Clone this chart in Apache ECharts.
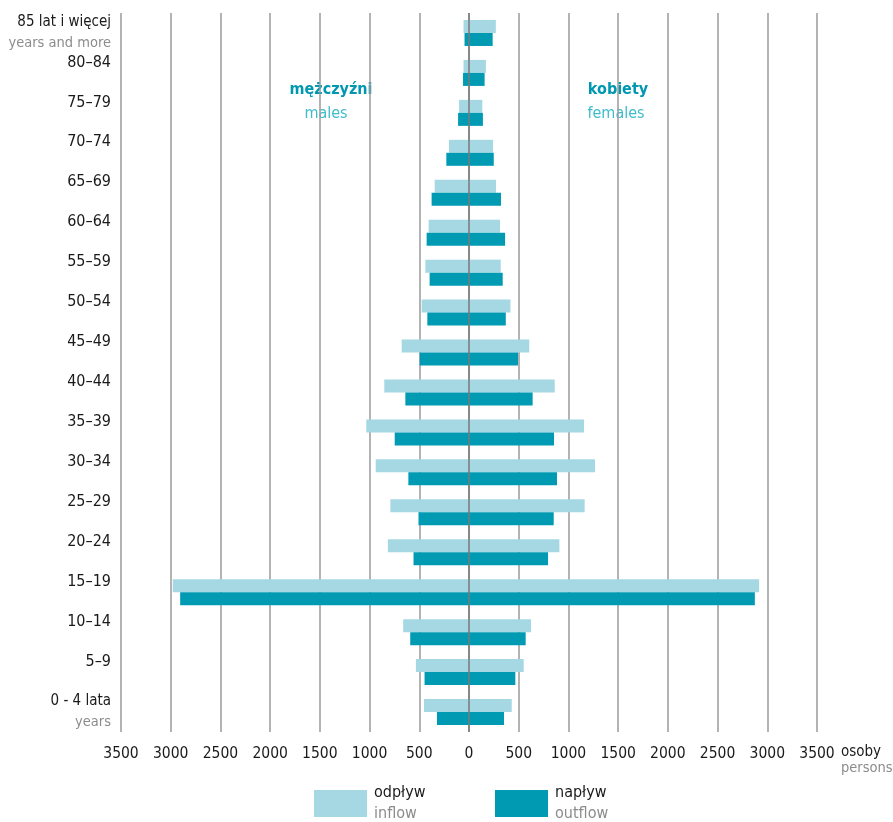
<!DOCTYPE html>
<html>
<head>
<meta charset="utf-8">
<script src="https://cdn.jsdelivr.net/npm/echarts@6/dist/echarts.min.js"></script>
<style>
  html, body { margin: 0; padding: 0; background: #fff; }
  #chart { width: 893px; height: 822px; }
</style>
</head>
<body>
<div id="chart"></div>
<script>
// kategorie wieku (od góry do dołu)
const categories = ['85 lat i więcej', '80–84', '75–79', '70–74', '65–69', '60–64', '55–59', '50–54', '45–49',
  '40–44', '35–39', '30–34', '25–29', '20–24', '15–19', '10–14', '5–9', '0 - 4 lata'];
const categoriesEn = ['years and more', '', '', '', '', '', '', '', '', '', '', '', '', '', '', '', '', 'years'];

// mężczyźni / males
const maleInflow = [55, 55, 100, 201, 345, 406, 439, 476, 677, 852, 1033, 938, 791, 816, 2979, 662, 534, 453];
const maleOutflow = [45, 60, 110, 228, 376, 426, 396, 419, 496, 640, 747, 610, 508, 558, 2905, 591, 447, 322];
// kobiety / females
const femaleInflow = [270, 170, 134, 242, 272, 312, 319, 417, 606, 862, 1157, 1267, 1163, 909, 2918, 624, 550, 430];
const femaleOutflow = [238, 157, 140, 249, 322, 363, 339, 370, 493, 640, 855, 885, 852, 795, 2875, 570, 466, 352];

const LIGHT = '#a5d8e2';
const DARK = '#009bb3';
const FONT = '"Liberation Sans Narrow", "DejaVu Sans Condensed", sans-serif';
const legendEn = { 'odpływ': 'inflow', 'napływ': 'outflow' };

const chart = echarts.init(document.getElementById('chart'));

const barBase = {
  type: 'bar',
  barWidth: 13,
  barGap: '0%',
  silent: true,
  animation: false
};

const legendBase = {
  top: 780,
  itemWidth: 53,
  itemHeight: 27,
  itemGap: 0,
  icon: 'rect',
  selectedMode: false,
  formatter: name => `{a|${name}}\n{b|${legendEn[name]}}`,
  textStyle: {
    fontFamily: FONT,
    padding: [0, 0, 0, 2],
    rich: {
      a: { fontFamily: FONT, fontSize: 16, color: '#1a1a1a', lineHeight: 21 },
      b: { fontFamily: FONT, fontSize: 16, color: '#8c8c8c', lineHeight: 21 }
    }
  }
};

chart.setOption({
  backgroundColor: '#fff',
  animation: false,
  grid: { left: 121, right: 76, top: 13, bottom: 90, outerBoundsMode: 'none', containLabel: false },
  xAxis: {
    type: 'value',
    min: -3500,
    max: 3500,
    interval: 500,
    axisLine: { show: false },
    axisTick: { show: false },
    axisLabel: {
      formatter: v => String(Math.abs(v)),
      fontFamily: FONT,
      fontSize: 15.5,
      color: '#1a1a1a',
      margin: 14
    },
    splitLine: { lineStyle: { color: '#9a9a9a', width: 1.5 } }
  },
  yAxis: {
    type: 'category',
    data: categories,
    inverse: true,
    axisLine: { show: false },
    axisTick: { show: false },
    axisLabel: {
      margin: 10,
      formatter: (v, i) => {
        const main = /[a-z]/.test(v) ? `{c|${v}}` : `{a|${v}}`;
        return `${main}\n{b|${categoriesEn[i] || ' '}}`;
      },
      rich: {
        a: { fontFamily: FONT, fontSize: 16, color: '#1a1a1a', lineHeight: 21, align: 'right' },
        c: { fontFamily: FONT, fontSize: 15, color: '#1a1a1a', lineHeight: 21, align: 'right' },
        b: { fontFamily: FONT, fontSize: 14.5, color: '#8c8c8c', lineHeight: 21, align: 'right' }
      }
    }
  },
  legend: [
    Object.assign({}, legendBase, { left: 309, data: ['odpływ'] }),
    Object.assign({}, legendBase, { left: 490, data: ['napływ'] })
  ],
  series: [
    Object.assign({}, barBase, {
      name: 'odpływ', stack: 'light', color: LIGHT,
      data: maleInflow.map(v => -v)
    }),
    Object.assign({}, barBase, {
      name: 'odpływ', stack: 'light', color: LIGHT,
      data: femaleInflow
    }),
    Object.assign({}, barBase, {
      name: 'napływ', stack: 'dark', color: DARK,
      data: maleOutflow.map(v => -v)
    }),
    Object.assign({}, barBase, {
      name: 'napływ', stack: 'dark', color: DARK,
      data: femaleOutflow,
      markLine: {
        silent: true,
        symbol: 'none',
        label: { show: false },
        lineStyle: { color: '#7a7a7a', width: 1.5, type: 'solid' },
        data: [{ xAxis: 0 }]
      }
    })
  ],
  graphic: [
    { type: 'text', x: 331, y: 90, style: { text: 'mężczyźni', font: `bold 16px ${FONT}`, fill: '#0098b0', align: 'center', verticalAlign: 'middle' } },
    { type: 'text', x: 326, y: 114, style: { text: 'males', font: `16px ${FONT}`, fill: '#3fbccc', align: 'center', verticalAlign: 'middle' } },
    { type: 'text', x: 618, y: 90, style: { text: 'kobiety', font: `bold 16px ${FONT}`, fill: '#0098b0', align: 'center', verticalAlign: 'middle' } },
    { type: 'text', x: 616, y: 114, style: { text: 'females', font: `16px ${FONT}`, fill: '#3fbccc', align: 'center', verticalAlign: 'middle' } },
    { type: 'text', x: 841, y: 752, style: { text: 'osoby', font: `15px ${FONT}`, fill: '#1a1a1a', verticalAlign: 'middle' } },
    { type: 'text', x: 841, y: 768, style: { text: 'persons', font: `14.5px ${FONT}`, fill: '#8c8c8c', verticalAlign: 'middle' } }
  ]
});
</script>
</body>
</html>
